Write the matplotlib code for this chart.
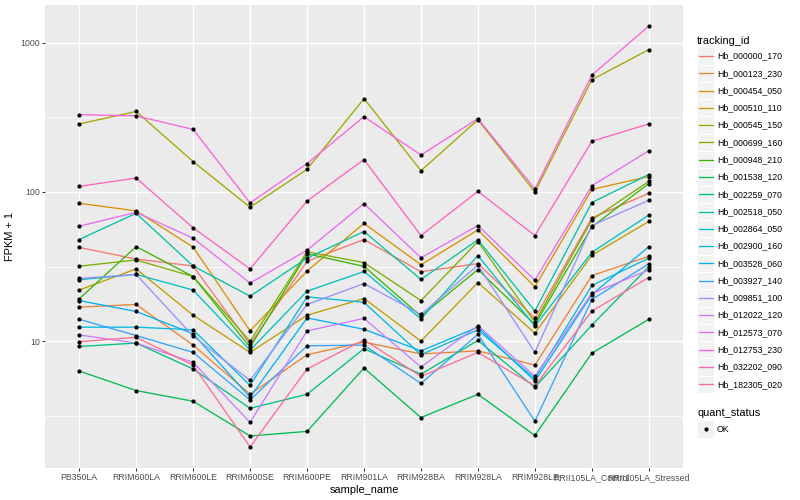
import numpy as np
import matplotlib
matplotlib.use("Agg")
import matplotlib.pyplot as plt
from matplotlib.patches import Rectangle

# %%
samples = ["PB350LA", "RRIM600LA", "RRIM600LE", "RRIM600SE", "RRIM600PE",
           "RRIM901LA", "RRIM928BA", "RRIM928LA", "RRIM928LE",
           "RRII105LA_Control", "RRII105LA_Stressed"]

tracking_ids = ["Hb_000000_170", "Hb_000123_230", "Hb_000454_050", "Hb_000510_110",
                "Hb_000545_150", "Hb_000699_160", "Hb_000948_210", "Hb_001538_120",
                "Hb_002259_070", "Hb_002518_050", "Hb_002864_050", "Hb_002900_160",
                "Hb_003528_060", "Hb_003927_140", "Hb_009851_100", "Hb_012022_120",
                "Hb_012573_070", "Hb_012753_230", "Hb_032202_090", "Hb_182305_020"]

# FPKM + 1, one list per gene (same order as samples)
hb_000000_170 = [42.5, 35.5, 31.9, 9.5, 34.3, 48, 29.2, 33.1, 14.3, 67, 98]
hb_000123_230 = [16.9, 17.6, 9.4, 4.4, 8.1, 9.85, 8.2, 8.6, 6.9, 27.5, 37]
hb_000454_050 = [84, 74.7, 42.7, 11.7, 29.5, 61.6, 32.5, 55.7, 23.1, 104, 127]
hb_000510_110 = [22, 30.5, 14.9, 8.4, 14.9, 19.3, 10, 24.7, 11.3, 37.7, 63.4]
hb_000545_150 = [286, 347, 160, 79, 142, 423, 139, 305, 100, 566, 902]
hb_000699_160 = [31.8, 35, 27.1, 9.95, 39.7, 33.6, 18.7, 46.5, 13.4, 65, 118]
hb_000948_210 = [19.2, 43, 27.1, 9.1, 38.5, 31.7, 14.7, 30.2, 12.9, 58.3, 114]
hb_001538_120 = [6.3, 4.66, 3.95, 2.31, 2.48, 6.6, 3.07, 4.4, 2.33, 8.3, 14]
hb_002259_070 = [9.2, 9.7, 6.5, 3.54, 4.4, 8.9, 6.0, 10.1, 4.9, 12.8, 31.5]
hb_002518_050 = [48, 72, 31.9, 20, 36, 54.3, 25.9, 47.8, 15.9, 85, 131]
hb_002864_050 = [25.8, 28, 22, 8.7, 21.6, 29.3, 14.1, 37.5, 12.6, 39.4, 70]
hb_002900_160 = [12.4, 12.4, 11.9, 5.05, 19.8, 18.2, 8.1, 11.9, 5.6, 23.6, 36]
hb_003528_060 = [18.7, 15.8, 11.2, 4.2, 14.3, 12, 8.6, 12.4, 5.4, 20.5, 43]
hb_003927_140 = [14, 10.9, 8.4, 4.03, 9.3, 9.4, 5.2, 11.1, 2.9, 19, 33]
hb_009851_100 = [26.3, 28, 10.8, 5.45, 17.6, 24.3, 15.1, 32.3, 8.4, 59.6, 88]
hb_012022_120 = [11, 9.7, 7.2, 2.85, 11.7, 14.2, 6.7, 12.7, 5.8, 20.9, 30]
hb_012573_070 = [59, 73, 49, 24.5, 40.7, 83.6, 36.2, 59.6, 25.6, 110, 189]
hb_012753_230 = [330, 324, 263, 84.5, 155, 320, 177, 310, 105, 608, 1297]
hb_032202_090 = [109, 124, 57.5, 30.5, 87, 165, 51, 101, 51, 219, 286]
hb_182305_020 = [9.9, 10.6, 6.9, 1.95, 6.5, 10.2, 5.8, 8.4, 5.0, 15.9, 26.7]

series = [hb_000000_170, hb_000123_230, hb_000454_050, hb_000510_110,
          hb_000545_150, hb_000699_160, hb_000948_210, hb_001538_120,
          hb_002259_070, hb_002518_050, hb_002864_050, hb_002900_160,
          hb_003528_060, hb_003927_140, hb_009851_100, hb_012022_120,
          hb_012573_070, hb_012753_230, hb_032202_090, hb_182305_020]

# ggplot default hue palette for 20 levels
colors = ["#F8766D", "#EA8331", "#D89000", "#C09B00", "#A3A500", "#7CAE00",
          "#39B600", "#00BB4E", "#00BF7D", "#00C1A3", "#00BFC4", "#00BAE0",
          "#00B0F6", "#35A2FF", "#9590FF", "#C77CFF", "#E76BF3", "#FA62DB",
          "#FF62BC", "#FF6C91"]

# %%
plt.rcParams["font.family"] = ["Liberation Sans", "DejaVu Sans"]
PX = 0.72  # one ggplot pixel (72 dpi) in points at dpi 100

fig = plt.figure(figsize=(8, 5), dpi=100)
ax = fig.add_axes([45 / 800, 1 - 468 / 500, (683 - 45) / 800, (468 - 5) / 500])

x = np.arange(1, len(samples) + 1)
for vals, col in zip(series, colors):
    ax.plot(x, vals, color=col, lw=1.3 * PX, zorder=3)
for vals in series:
    ax.plot(x, vals, "o", color="black", ms=4.2 * PX, mew=0, zorder=4)

ax.set_yscale("log")
allv = np.log10(np.concatenate([np.asarray(s, float) for s in series]))
lo, hi = allv.min(), allv.max()
pad = 0.05 * (hi - lo)
ax.set_ylim(10 ** (lo - pad), 10 ** (hi + pad))
ax.set_xlim(0.4, len(samples) + 0.6)

ax.set_facecolor("#EBEBEB")
for s in ax.spines.values():
    s.set_visible(False)
ax.set_yticks([10, 100, 1000])
ax.set_yticklabels(["10", "100", "1000"])
ax.set_yticks([10 ** 0.5, 10 ** 1.5, 10 ** 2.5], minor=True)
ax.set_xticks(x)
ax.set_xticklabels(samples)
ax.grid(True, which="major", color="white", lw=1.4 * PX, zorder=0)
ax.grid(True, which="minor", axis="y", color="white", lw=0.7 * PX, zorder=0)
ax.set_axisbelow(True)
ax.tick_params(which="major", length=2.75 * PX, width=1.07 * PX, color="#333333",
               labelsize=8.8 * PX, labelcolor="#4D4D4D", pad=2.2 * PX)
ax.tick_params(which="minor", length=0)
ax.set_xlabel("sample_name", fontsize=11 * PX, labelpad=2)
ax.set_ylabel("FPKM + 1", fontsize=11 * PX, labelpad=4)

# %% legend drawn in pixel space, ggplot style
leg = fig.add_axes([0, 0, 1, 1], facecolor="none")
leg.set_xlim(0, 800)
leg.set_ylim(500, 0)
leg.axis("off")

key = 17.28
leg.text(697, 40.5, "tracking_id", fontsize=11 * PX, va="center", ha="left")
for i, (name, col) in enumerate(zip(tracking_ids, colors)):
    yc = 56 + key * i
    leg.add_patch(Rectangle((697, yc - key / 2), key, key, fc="#F2F2F2",
                            ec="white", lw=0.7))
    leg.plot([698.7, 712.6], [yc, yc], color=col, lw=1.3 * PX)
    leg.text(717, yc, name, fontsize=8.8 * PX, va="center", ha="left")

leg.text(697, 412.5, "quant_status", fontsize=11 * PX, va="center", ha="left")
leg.add_patch(Rectangle((697, 429 - key / 2), key, key, fc="#F2F2F2", ec="white", lw=0.7))
leg.plot([697 + key / 2], [429], "o", color="black", ms=4.2 * PX, mew=0)
leg.text(717, 429, "OK", fontsize=8.8 * PX, va="center", ha="left")

fig.savefig("out.png", dpi=100)
